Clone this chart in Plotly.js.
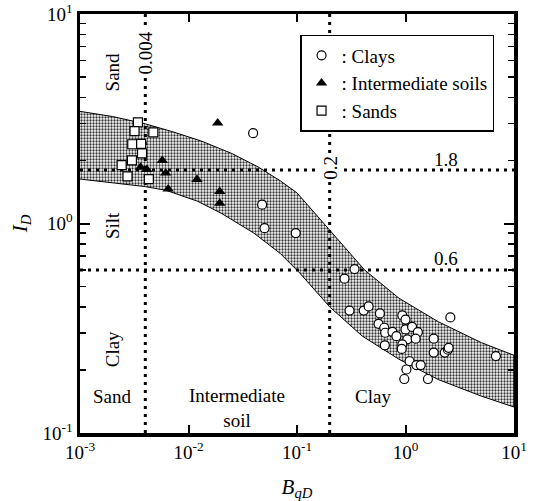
<!DOCTYPE html>
<html><head><meta charset="utf-8">
<script src="https://cdn.plot.ly/plotly-3.0.1.min.js"></script>
<style>html,body{margin:0;padding:0;background:#fff}</style>
</head><body><div id="chart" style="width:534px;height:501px"></div>
<script>
// ---- data ----
var clayX = [0.0394, 0.0477, 0.0502, 0.0973, 0.339, 0.274, 0.305, 0.412, 0.457, 0.581, 0.564, 0.637, 0.650, 0.758, 0.825, 0.645, 0.935, 1.0, 1.0, 1.15, 1.30, 1.04, 1.24, 0.935, 0.923, 1.09, 1.26, 1.38, 1.02, 0.975, 1.61, 1.82, 1.82, 2.30, 2.46, 2.50, 2.59, 6.81];
var clayY = [2.70, 1.23, 0.95, 0.90, 0.606, 0.545, 0.384, 0.384, 0.402, 0.372, 0.332, 0.318, 0.301, 0.304, 0.290, 0.262, 0.364, 0.348, 0.312, 0.321, 0.303, 0.280, 0.282, 0.265, 0.252, 0.220, 0.211, 0.211, 0.201, 0.181, 0.181, 0.282, 0.242, 0.242, 0.250, 0.255, 0.356, 0.233];

var interX = [0.00361, 0.00413, 0.00573, 0.00616, 0.0065, 0.01197, 0.01858, 0.0194, 0.0194];
var interY = [1.855, 1.81, 2.00, 1.74, 1.46, 1.62, 3.02, 1.42, 1.25];

var sandX = [0.00342, 0.00318, 0.00474, 0.00303, 0.00366, 0.00373, 0.00301, 0.00242, 0.00274, 0.00431];
var sandY = [3.04, 2.76, 2.72, 2.39, 2.40, 2.16, 2.00, 1.90, 1.68, 1.63];

var bandUpperX = [0.001, 0.002, 0.004, 0.007, 0.013, 0.025, 0.044, 0.07, 0.1, 0.2, 0.42, 0.87, 2, 5, 10];
var bandUpperY = [3.43, 3.24, 2.99, 2.75, 2.48, 2.16, 1.86, 1.60, 1.40, 0.93, 0.60, 0.44, 0.34, 0.27, 0.235];
var bandLowerX = [0.001, 0.002, 0.004, 0.0062, 0.012, 0.02, 0.04, 0.07, 0.106, 0.2, 0.4, 0.87, 2, 5, 10];
var bandLowerY = [1.63, 1.57, 1.50, 1.44, 1.28, 1.12, 0.90, 0.72, 0.58, 0.40, 0.29, 0.225, 0.18, 0.15, 0.133];

var boundaryX = [0.004, 0.2];     // B_qD limits
var boundaryY = [1.8, 0.6];       // I_D limits
var rangeX = [0.001, 10];
var rangeY = [0.1, 10];

var xTickVals = [0.001, 0.01, 0.1, 1, 10];
var xTickText = ['10<sup>-3</sup>', '10<sup>-2</sup>', '10<sup>-1</sup>', '10<sup>0</sup>', '10<sup>1</sup>'];
var yTickVals = [0.1, 1, 10];
var yTickText = ['10<sup>-1</sup>', '10<sup>0</sup>', '10<sup>1</sup>'];
var yMinorTickVals = [0.2, 0.3, 0.4, 0.5, 0.6, 0.7, 0.8, 0.9, 2, 3, 4, 5, 6, 7, 8, 9];

var seriesNames = [': Clays', ': Intermediate soils', ': Sands'];

// ---- build ----
var FONT = 'Liberation Serif, Times New Roman, serif';
var traces = [];

var polyX = bandUpperX.concat(bandLowerX.slice().reverse());
var polyY = bandUpperY.concat(bandLowerY.slice().reverse());
traces.push({
  x: polyX, y: polyY, mode: 'lines', fill: 'toself', showlegend: false, hoverinfo: 'skip',
  line: {color: '#000', width: 1},
  fillcolor: '#ffffff',
  fillpattern: {shape: '.', size: 3, solidity: 0.45, fgcolor: '#333', bgcolor: '#ffffff'}
});

var dotStyle = {color: '#000', width: 3, dash: '3px,5px'};
boundaryX.forEach(function (bx) {
  traces.push({x: [bx, bx], y: rangeY, mode: 'lines', line: dotStyle, showlegend: false, hoverinfo: 'skip'});
});
boundaryY.forEach(function (by) {
  traces.push({x: rangeX, y: [by, by], mode: 'lines', line: dotStyle, showlegend: false, hoverinfo: 'skip'});
});

traces.push({x: clayX, y: clayY, mode: 'markers', name: seriesNames[0],
  marker: {symbol: 'circle', size: 9, color: '#fff', line: {color: '#000', width: 1.2}}});
traces.push({x: interX, y: interY, mode: 'markers', name: seriesNames[1],
  marker: {symbol: 'triangle-up', size: 10, color: '#000', line: {color: '#000', width: 0}}});
traces.push({x: sandX, y: sandY, mode: 'markers', name: seriesNames[2],
  marker: {symbol: 'square', size: 9, color: '#fff', line: {color: '#000', width: 1.2}}});

function ann(text, x, y, opts) {
  var a = {text: text, x: Math.log10(x), y: Math.log10(y), xref: 'x', yref: 'y', showarrow: false,
    font: {family: FONT, size: 19, color: '#000'}};
  for (var k in opts) a[k] = opts[k];
  return a;
}

var annotations = [
  ann('Sand', 0.002, 5.3, {textangle: -90}),
  ann('Silt', 0.002, 0.98, {textangle: -90}),
  ann('Clay', 0.002, 0.25, {textangle: -90}),
  ann('Sand', 0.002, 0.149, {}),
  ann('Intermediate<br>soil', 0.028, 0.131, {}),
  ann('Clay', 0.5, 0.149, {}),
  ann('0.004', 0.004, 6.5, {textangle: -90, bgcolor: '#fff'}),
  ann('0.2', 0.2, 1.84, {textangle: -90, bgcolor: '#fff'}),
  ann('1.8', 2.36, 2.02, {}),
  ann('0.6', 2.36, 0.677, {})
];

var axisCommon = {
  type: 'log', showgrid: false, zeroline: false, showline: true, linecolor: '#000', linewidth: 3.5,
  mirror: 'ticks', ticks: 'inside', tickcolor: '#000', tickwidth: 2,
  tickfont: {family: FONT, size: 19, color: '#000'}, tickmode: 'array'
};

var layout = {
  width: 534, height: 501,
  margin: {l: 80, r: 20, t: 14, b: 68},
  paper_bgcolor: '#fff', plot_bgcolor: '#fff',
  font: {family: FONT, color: '#000'},
  xaxis: Object.assign({}, axisCommon, {
    range: [Math.log10(rangeX[0]), Math.log10(rangeX[1])],
    tickvals: xTickVals, ticktext: xTickText, ticklen: 8,
    title: {text: '<i>B</i><sub><i>qD</i></sub>', font: {family: FONT, size: 21, color: '#000'}, standoff: 18}
  }),
  yaxis: Object.assign({}, axisCommon, {
    range: [Math.log10(rangeY[0]), Math.log10(rangeY[1])],
    tickvals: yTickVals, ticktext: yTickText, ticklen: 10,
    minor: {tickmode: 'array', tickvals: yMinorTickVals, ticks: 'inside', ticklen: 6, tickwidth: 1.5, tickcolor: '#000', showgrid: false},
    title: {text: '<i>I</i><sub><i>D</i></sub>', font: {family: FONT, size: 21, color: '#000'}, standoff: 10}
  }),
  showlegend: true,
  legend: {
    x: 0.507, y: 0.95, xanchor: 'left', yanchor: 'top',
    bgcolor: '#fff', bordercolor: '#000', borderwidth: 1.5,
    font: {family: FONT, size: 19, color: '#000'},
    itemwidth: 30, tracegroupgap: 0
  },
  annotations: annotations
};

Plotly.newPlot('chart', traces, layout, {displayModeBar: false, staticPlot: true});
</script></body></html>
